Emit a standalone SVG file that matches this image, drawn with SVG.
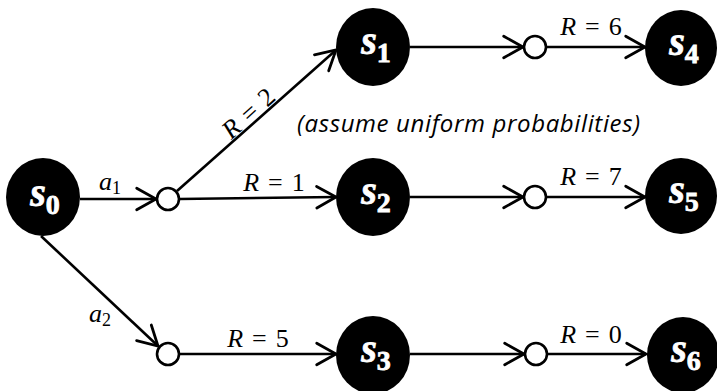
<svg xmlns="http://www.w3.org/2000/svg" width="717" height="391" viewBox="0 0 717 391">
<defs>
<marker id="arr" markerUnits="userSpaceOnUse" markerWidth="30" markerHeight="30" refX="0" refY="0" viewBox="-22 -14 26 28" orient="auto" overflow="visible">
<path d="M-18,-10 L0,0 L-18,10" fill="none" stroke="#000" stroke-width="2.6" stroke-linejoin="miter" stroke-linecap="round"/>
</marker>
<style>
.edge{stroke:#000;stroke-width:2.6;fill:none;marker-end:url(#arr)}
.state{fill:#000}
.chance{fill:#fff;stroke:#000;stroke-width:2.6}
.st{font-family:"Liberation Serif",serif;font-weight:bold;fill:#fff;stroke:#fff;stroke-width:0.8;text-anchor:middle}
.st .v{font-style:italic;font-size:40px}
.st .sub{font-size:28px}
.lbl{font-family:"Liberation Serif",serif;font-size:26px;fill:#000;text-anchor:middle}
.lbl .i{font-style:italic}
.lbl .sb{font-size:18px}
.note{font-family:"Open Sans",sans-serif;font-style:italic;font-size:24px;fill:#000}
</style>
</defs>
<g id="connectors">
<line class="edge" x1="80" y1="199" x2="156" y2="199"/>
<line class="edge" x1="177" y1="191" x2="336" y2="50"/>
<line class="edge" x1="179" y1="199" x2="336" y2="197"/>
<line class="edge" x1="41" y1="236" x2="158" y2="346"/>
<line class="edge" x1="179" y1="354" x2="336" y2="354"/>
<line class="edge" x1="410" y1="47" x2="523" y2="47"/>
<line class="edge" x1="547" y1="47" x2="645" y2="47"/>
<line class="edge" x1="410" y1="197" x2="523" y2="197"/>
<line class="edge" x1="547" y1="197" x2="645" y2="197"/>
<line class="edge" x1="410" y1="354" x2="524" y2="354"/>
<line class="edge" x1="548" y1="354" x2="646" y2="354"/>
<text class="lbl" x="110" y="190"><tspan class="i">a</tspan><tspan class="sb" dy="4">1</tspan></text>
<text class="lbl" x="100" y="322"><tspan class="i">a</tspan><tspan class="sb" dy="4">2</tspan></text>
<text class="lbl" x="248" y="122" transform="rotate(-42 248 113)"><tspan class="i">R</tspan><tspan dx="9">=</tspan><tspan dx="9">2</tspan></text>
<text class="lbl" x="274" y="191"><tspan class="i">R</tspan><tspan dx="9">=</tspan><tspan dx="9">1</tspan></text>
<text class="lbl" x="258" y="347"><tspan class="i">R</tspan><tspan dx="9">=</tspan><tspan dx="9">5</tspan></text>
<text class="lbl" x="591" y="35"><tspan class="i">R</tspan><tspan dx="9">=</tspan><tspan dx="9">6</tspan></text>
<text class="lbl" x="591" y="185"><tspan class="i">R</tspan><tspan dx="9">=</tspan><tspan dx="9">7</tspan></text>
<text class="lbl" x="591" y="343"><tspan class="i">R</tspan><tspan dx="9">=</tspan><tspan dx="9">0</tspan></text>
</g>
<g id="s0"><ellipse class="state" cx="43" cy="197" rx="37" ry="39"/><text class="st" x="45" y="206"><tspan class="v">s</tspan><tspan class="sub" dy="8">0</tspan></text></g>
<g id="c1"><circle class="chance" cx="168" cy="199" r="11"/></g>
<g id="c3"><circle class="chance" cx="168" cy="354" r="11"/></g>
<g id="s1"><ellipse class="state" cx="373" cy="47" rx="37" ry="39"/><text class="st" x="376" y="54"><tspan class="v">s</tspan><tspan class="sub" dy="8">1</tspan></text></g>
<g id="s2"><ellipse class="state" cx="373" cy="197" rx="37" ry="39"/><text class="st" x="376" y="204"><tspan class="v">s</tspan><tspan class="sub" dy="8">2</tspan></text></g>
<g id="s3"><ellipse class="state" cx="373" cy="355" rx="37" ry="39"/><text class="st" x="376" y="362"><tspan class="v">s</tspan><tspan class="sub" dy="8">3</tspan></text></g>
<g id="c4"><circle class="chance" cx="535" cy="47" r="11"/></g>
<g id="c5"><circle class="chance" cx="535" cy="197" r="11"/></g>
<g id="c6"><circle class="chance" cx="536" cy="354" r="11"/></g>
<g id="s4"><ellipse class="state" cx="681" cy="48" rx="36" ry="38"/><text class="st" x="684" y="55"><tspan class="v">s</tspan><tspan class="sub" dy="8">4</tspan></text></g>
<g id="s5"><ellipse class="state" cx="681" cy="196" rx="36" ry="38"/><text class="st" x="684" y="203"><tspan class="v">s</tspan><tspan class="sub" dy="8">5</tspan></text></g>
<g id="s6"><ellipse class="state" cx="683" cy="355" rx="36" ry="38"/><text class="st" x="686" y="362"><tspan class="v">s</tspan><tspan class="sub" dy="8">6</tspan></text></g>
<g id="note"><text class="note" x="297" y="132" textLength="343">(assume uniform probabilities)</text></g>
</svg>
